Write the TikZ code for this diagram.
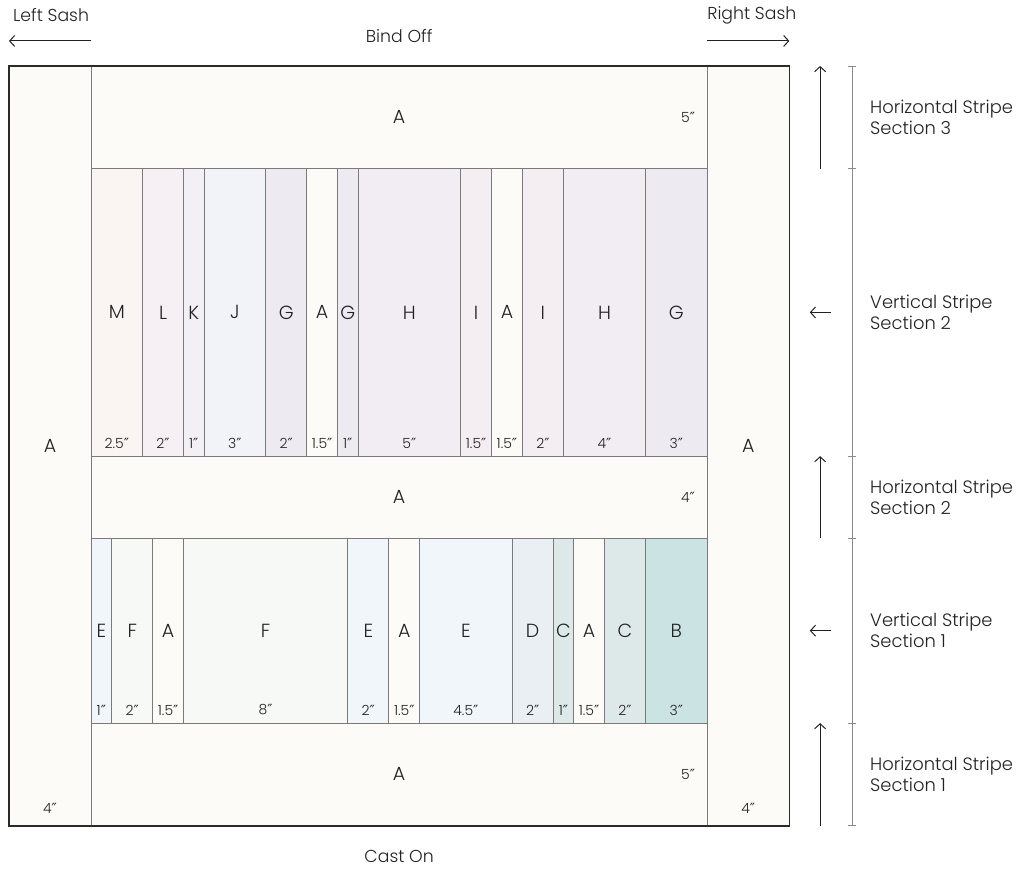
\documentclass[tikz,border=0pt]{standalone}
\usepackage{fontspec}
\setmainfont{Poppins}[UprightFont=* Light]
\newfontfamily\primefont{DejaVu Sans}
\newcommand{\inch}{{\primefont ″}}
\usetikzlibrary{arrows.meta}
\definecolor{cA}{HTML}{FDFBF7}
\definecolor{cB}{HTML}{CCE3E3}
\definecolor{cC}{HTML}{DDE8E8}
\definecolor{cD}{HTML}{E9EFF3}
\definecolor{cE}{HTML}{F0F6FA}
\definecolor{cF}{HTML}{F7F9F7}
\definecolor{cG}{HTML}{EDEAF2}
\definecolor{cH}{HTML}{F1EDF2}
\definecolor{cI}{HTML}{F4EEF3}
\definecolor{cJ}{HTML}{F1F3F8}
\definecolor{cK}{HTML}{F2EFF5}
\definecolor{cL}{HTML}{F6F0F4}
\definecolor{cM}{HTML}{FAF4F2}
\definecolor{gline}{HTML}{7A7A7A}
\definecolor{frame}{HTML}{2A2A2A}
\definecolor{txt}{HTML}{222222}
\definecolor{brk}{HTML}{8A8A8A}
\begin{document}
\begin{tikzpicture}[x=20.533pt,y=-20.533pt,
  gridline/.style={draw=gline, line width=1pt},
  letter/.style={font=\fontsize{19}{19}\selectfont, text=txt, inner sep=0pt},
  sizelab/.style={font=\fontsize{14}{14}\selectfont, text=txt, inner sep=0pt},
  sidelab/.style={font=\fontsize{17.9}{21}\selectfont, align=left, anchor=west, text=txt, inner sep=0pt},
  toplab/.style={font=\fontsize{17.3}{17.3}\selectfont, text=txt, inner sep=0pt},
  arr/.style={-{Straight Barb[length=5pt,width=11pt]}, line width=1pt, draw=txt}]
\useasboundingbox (-0.4383,-3.2144) rectangle (49.43,39.156);

% base fill
\fill[cA] (0,0) rectangle (38,37);

% vertical stripe section 2 (y 5..19): fills
\foreach \xa/\xb/\l/\s [count=\i] in {4/6.5/M/2.5, 6.5/8.5/L/2, 8.5/9.5/K/1, 9.5/12.5/J/3,
  12.5/14.5/G/2, 14.5/16/A/1.5, 16/17/G/1, 17/22/H/5, 22/23.5/I/1.5, 23.5/25/A/1.5,
  25/27/I/2, 27/31/H/4, 31/34/G/3}{
  \fill[c\l] (\xa,5) rectangle (\xb,19);
}
% vertical stripe section 1 (y 23..32): fills
\foreach \xa/\xb/\l/\s [count=\i] in {4/5/E/1, 5/7/F/2, 7/8.5/A/1.5, 8.5/16.5/F/8,
  16.5/18.5/E/2, 18.5/20/A/1.5, 20/24.5/E/4.5, 24.5/26.5/D/2, 26.5/27.5/C/1,
  27.5/29/A/1.5, 29/31/C/2, 31/34/B/3}{
  \fill[c\l] (\xa,23) rectangle (\xb,32);
}

% column lines
\foreach \x in {6.5,8.5,9.5,12.5,14.5,16,17,22,23.5,25,27,31}{\draw[gridline] (\x,5) -- (\x,19);}
\foreach \x in {5,7,8.5,16.5,18.5,20,24.5,26.5,27.5,29,31}{\draw[gridline] (\x,23) -- (\x,32);}

% labels of section 2
\foreach \xa/\xb/\l/\s [count=\i] in {4/6.5/M/2.5, 6.5/8.5/L/2, 8.5/9.5/K/1, 9.5/12.5/J/3,
  12.5/14.5/G/2, 14.5/16/A/1.5, 16/17/G/1, 17/22/H/5, 22/23.5/I/1.5, 23.5/25/A/1.5,
  25/27/I/2, 27/31/H/4, 31/34/G/3}{
  \node[letter] (vtwo\i) at ({(\xa+\xb)/2},12) {\l};
  \node[sizelab] (vtwos\i) at ({(\xa+\xb)/2},18.36) {\s\inch};
}
% labels of section 1
\foreach \xa/\xb/\l/\s [count=\i] in {4/5/E/1, 5/7/F/2, 7/8.5/A/1.5, 8.5/16.5/F/8,
  16.5/18.5/E/2, 18.5/20/A/1.5, 20/24.5/E/4.5, 24.5/26.5/D/2, 26.5/27.5/C/1,
  27.5/29/A/1.5, 29/31/C/2, 31/34/B/3}{
  \node[letter] (vone\i) at ({(\xa+\xb)/2},27.5) {\l};
  \node[sizelab] (vones\i) at ({(\xa+\xb)/2},31.36) {\s\inch};
}

% horizontal grid lines and sash lines
\foreach \y in {5,19,23,32}{\draw[gridline] (4,\y) -- (34,\y);}
\draw[gridline] (4,0) -- (4,37);
\draw[gridline] (34,0) -- (34,37);

% outer frame
\draw[draw=frame, line width=1.6pt] (0,0) rectangle (38,37);

% horizontal stripes labels
\node[letter] (h3) at (19,2.5) {A};
\node[sizelab] (h3s) at (33.07,2.5) {5\inch};
\node[letter] (h2) at (19,21) {A};
\node[sizelab] (h2s) at (33.07,21) {4\inch};
\node[letter] (h1) at (19,34.5) {A};
\node[sizelab] (h1s) at (33.07,34.5) {5\inch};

% sashes
\node[letter] (ls) at (2,18.5) {A};
\node[sizelab] (lss) at (2,36.14) {4\inch};
\node[letter] (rs) at (36,18.5) {A};
\node[sizelab] (rss) at (36,36.14) {4\inch};

% top labels
\node[toplab, anchor=west] (lsash) at (0.19,-2.48) {Left Sash};
\node[toplab, anchor=west] (rsash) at (34,-2.48) {Right Sash};
\node[toplab] (bind) at (19,-1.46) {Bind Off};
\node[toplab] (cast) at (19,38.47) {Cast On};
\coordinate (la1) at (4,-1.22); \coordinate (la2) at (0,-1.22);
\coordinate (ra1) at (34,-1.22); \coordinate (ra2) at (38,-1.22);
\draw[arr] (la1) -- (la2);
\draw[arr] (ra1) -- (ra2);

% right bracket
\draw[draw=brk, line width=1pt] (41.06,0) -- (41.06,37);
\foreach \y in {0,5,19,23,32,37}{\draw[draw=brk, line width=1pt] (40.86,\y) -- (41.26,\y);}

% direction arrows
\coordinate (u3a) at (39.5,5); \coordinate (u3b) at (39.5,0);
\coordinate (u2a) at (39.5,23); \coordinate (u2b) at (39.5,19);
\coordinate (u1a) at (39.5,37); \coordinate (u1b) at (39.5,32);
\draw[arr] (u3a) -- (u3b);
\draw[arr] (u2a) -- (u2b);
\draw[arr] (u1a) -- (u1b);
\coordinate (l2a) at (40.03,12); \coordinate (l2b) at (39,12);
\coordinate (l1a) at (40.03,27.5); \coordinate (l1b) at (39,27.5);
\draw[arr] (l2a) -- (l2b);
\draw[arr] (l1a) -- (l1b);

% side labels
\node[sidelab] (s5) at (41.93,2.5) {Horizontal Stripe\\Section 3};
\node[sidelab] (s4) at (41.93,12) {Vertical Stripe\\Section 2};
\node[sidelab] (s3) at (41.93,21) {Horizontal Stripe\\Section 2};
\node[sidelab] (s2) at (41.93,27.5) {Vertical Stripe\\Section 1};
\node[sidelab] (s1) at (41.93,34.5) {Horizontal Stripe\\Section 1};
\end{tikzpicture}
\end{document}
